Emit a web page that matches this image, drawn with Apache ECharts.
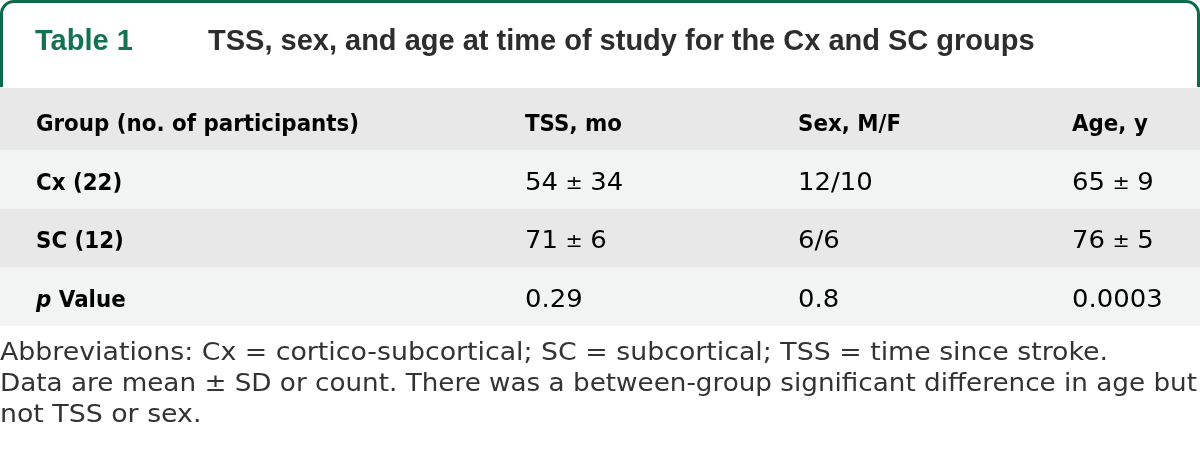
<!DOCTYPE html>
<html>
<head>
<meta charset="utf-8">
<script src="https://cdn.jsdelivr.net/npm/echarts@6/dist/echarts.min.js"></script>
<style>
html,body{margin:0;padding:0;background:#fff;}
#main{width:1200px;height:457px;}
</style>
</head>
<body>
<div id="main"></div>
<script>
// ---- data ----
const tableLabel = 'Table 1';
const tableTitle = 'TSS, sex, and age at time of study for the Cx and SC groups';
const columns = ['Group (no. of participants)', 'TSS, mo', 'Sex, M/F', 'Age, y'];
const groups = ['Cx (22)', 'SC (12)', 'p Value'];
const tssValues = ['54 ± 34', '71 ± 6', '0.29'];
const sexValues = ['12/10', '6/6', '0.8'];
const ageValues = ['65 ± 9', '76 ± 5', '0.0003'];
const footnotes = [
  'Abbreviations: Cx = cortico-subcortical; SC = subcortical; TSS = time since stroke.',
  'Data are mean ± SD or count. There was a between-group significant difference in age but',
  'not TSS or sex.'
];

// ---- layout (styles / positions) ----
const COL_X = [36, 525, 798, 1072];
const ROW_BG = ['#e8e8e8', '#f2f3f3', '#e8e8e8', '#f2f3f3'];
const GREEN = '#0b6b48';
const FONT = '"DejaVu Sans", Verdana, sans-serif';
const FOOT_W = [1108, 1197];
const rowNames = ['header'].concat(groups);

const cells = [];
const rows = [columns].concat(groups.map((g, i) => [g, tssValues[i], sexValues[i], ageValues[i]]));
rows.forEach((r, i) => r.forEach((t, j) => cells.push([j, i, t])));
const bgData = rowNames.map((n, i) => [0, i]);

function cellText(t, j, i) {
  if (t.indexOf('p ') === 0) return '{it|p}{b| ' + t.slice(2) + '}';
  if (t.indexOf('±') >= 0) {
    const parts = t.split('±');
    return '{n|' + parts[0].trim() + '}{pm|±}{n|' + parts[1].trim() + '}';
  }
  return (j === 0 || i === 0) ? '{b|' + t + '}' : '{n|' + t + '}';
}
const rich = {
  b: {fontFamily: FONT, fontWeight: 'bold', fontSize: 23, color: '#2e2e2e'},
  it: {fontFamily: FONT, fontWeight: 'bold', fontStyle: 'italic', fontSize: 23, color: '#2e2e2e'},
  n: {fontFamily: FONT, fontSize: 24, color: '#333333'},
  pm: {fontFamily: FONT, fontSize: 19, color: '#6a6a6a', padding: [0, 7, 0, 7]}
};

// fit footnote lines to their widths
const FOOT_SIZE = 24;
const ctx = document.createElement('canvas').getContext('2d');
ctx.font = FOOT_SIZE + 'px "DejaVu Sans"';
const footScale = FOOT_W.map((w, k) => w / ctx.measureText(footnotes[k]).width);
footScale.push(footScale[0]);

const lineStyle = {stroke: GREEN, lineWidth: 3, fill: null};
const chart = echarts.init(document.getElementById('main'), null, {renderer: 'canvas'});
chart.setOption({
  animation: false,
  backgroundColor: '#ffffff',
  grid: {left: 0, right: 0, top: 92, bottom: 131},
  xAxis: {type: 'value', min: 0, max: 1200, show: false},
  yAxis: {type: 'category', data: rowNames, inverse: true, show: false},
  series: [
    {
      type: 'custom',
      data: bgData,
      silent: true,
      renderItem: function (params, api) {
        const i = api.value(1);
        const c = api.coord([0, i]);
        const h = api.size([0, 1])[1];
        const cs = params.coordSys;
        let y0 = c[1] - h / 2, hh = h;
        if (i === 0) { y0 -= 4; hh += 4; }
        return {type: 'rect', shape: {x: cs.x, y: y0, width: cs.width, height: hh}, style: {fill: ROW_BG[i]}};
      }
    },
    {
      type: 'custom',
      data: cells,
      silent: true,
      renderItem: function (params, api) {
        const j = api.value(0), i = api.value(1);
        const t = cells[params.dataIndex][2];
        const c = api.coord([COL_X[j], i]);
        const bold = (j === 0 || i === 0);
        return {
          type: 'text',
          x: c[0], y: c[1] + 4,
          scaleX: bold ? 0.93 : 1.08,
          style: {text: cellText(t, j, i), rich: rich, align: 'left', verticalAlign: 'middle'}
        };
      }
    }
  ],
  graphic: [
    {type: 'line', shape: {x1: 1.5, y1: 87, x2: 1.5, y2: 14}, style: lineStyle},
    {type: 'arc', shape: {cx: 14, cy: 14, r: 12.5, startAngle: Math.PI, endAngle: Math.PI * 1.5, clockwise: true}, style: lineStyle},
    {type: 'line', shape: {x1: 14, y1: 1.5, x2: 1186, y2: 1.5}, style: lineStyle},
    {type: 'arc', shape: {cx: 1186, cy: 14, r: 12.5, startAngle: Math.PI * 1.5, endAngle: Math.PI * 2, clockwise: true}, style: lineStyle},
    {type: 'line', shape: {x1: 1198.5, y1: 14, x2: 1198.5, y2: 87}, style: lineStyle},
    {type: 'text', x: 35, y: 42, style: {text: tableLabel, fontFamily: 'Liberation Sans, Arial, sans-serif', fontWeight: 'bold', fontSize: 29, fill: '#137350', verticalAlign: 'middle'}},
    {type: 'text', x: 208, y: 42, style: {text: tableTitle, fontFamily: 'Liberation Sans, Arial, sans-serif', fontWeight: 'bold', fontSize: 29, fill: '#2d2d2d', verticalAlign: 'middle'}}
  ].concat(footnotes.map((f, k) => ({
    type: 'text', x: 0, y: 354 + k * 31, scaleX: footScale[k],
    style: {text: f, fontFamily: FONT, fontSize: FOOT_SIZE, fill: '#333333', verticalAlign: 'middle'}
  })))
});
</script>
</body>
</html>
